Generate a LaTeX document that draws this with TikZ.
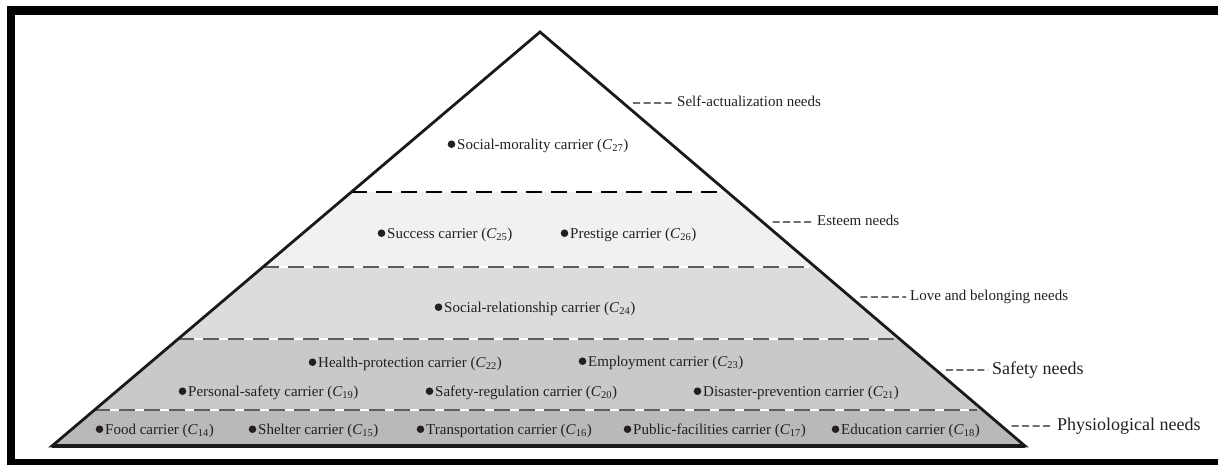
\documentclass[tikz,border=0pt]{standalone}
\usepackage{fontspec}
\setmainfont{Liberation Serif}
\usetikzlibrary{calc}

\definecolor{txt}{HTML}{231F20}
\definecolor{edgecol}{HTML}{1A1A1A}
\definecolor{esteemfill}{HTML}{F1F1F1}
\definecolor{lovefill}{HTML}{DCDCDD}
\definecolor{safetyfill}{HTML}{C9C9CA}
\definecolor{physiofill}{HTML}{B9B9BA}
\definecolor{tiergray}{HTML}{5E5E5E}

\newcommand{\cid}[1]{(\textit{C}\textsubscript{#1})}

\begin{document}
\begin{tikzpicture}[x=1pt,y=-1pt,
  carrier/.style={anchor=base west, inner sep=0pt, text=txt,
    font=\fontsize{15}{18}\selectfont},
  needlabel/.style={anchor=west, inner xsep=4pt, inner ysep=0pt, text=txt,
    text height=10.2pt, text depth=3pt, font=\fontsize{15}{18}\selectfont},
  biglabel/.style={needlabel, text height=12.2pt, text depth=3.6pt,
    font=\fontsize{18}{21}\selectfont},
  leader/.style={draw=txt, line width=1.1pt, dash pattern=on 7pt off 3.5pt},
  tierline/.style={line width=1.7pt, dash pattern=on 16pt off 9pt},
  underline/.style={draw=white, line width=1.7pt}
]
\useasboundingbox (0,0) rectangle (1218,464);
\clip (0,0) rectangle (1218,464);

% pyramid corners
\coordinate (apex) at (540,32);
\coordinate (bl) at (52,446);
\coordinate (br) at (1025,446);

% tier boundaries on both sides
\foreach \i/\t in {1/0.3865,2/0.5676,3/0.7415,4/0.9130}{
  \coordinate (l\i) at ($(apex)!\t!(bl)$);
  \coordinate (r\i) at ($(apex)!\t!(br)$);
}

% tier fills
\fill[esteemfill] (l1) -- (r1) -- (r2) -- (l2) -- cycle;
\fill[lovefill]   (l2) -- (r2) -- (r3) -- (l3) -- cycle;
\fill[safetyfill] (l3) -- (r3) -- (r4) -- (l4) -- cycle;
\fill[physiofill] (l4) -- (r4) -- (br) -- (bl) -- cycle;

% dashed tier separators
\draw[tierline, draw=black] (l1) -- ([xshift=-6pt]r1);
\foreach \i in {2,3,4}{
  \draw[underline] (l\i) -- ([xshift=-6pt]r\i);
  \draw[tierline, draw=tiergray] (l\i) -- ([xshift=-6pt]r\i);
}

% pyramid outline
\draw[edgecol, line width=2.8pt, line join=miter] (apex) -- (br) -- (bl) -- cycle;
\draw[edgecol, line width=3.6pt] (bl) -- (br);

% carriers
\node[carrier] (c27) at (457,149) {Social-morality carrier \cid{27}};
\node[carrier] (c25) at (387,238) {Success carrier \cid{25}};
\node[carrier] (c26) at (570,238) {Prestige carrier \cid{26}};
\node[carrier] (c24) at (444,312) {Social-relationship carrier \cid{24}};
\node[carrier] (c22) at (318,367) {Health-protection carrier \cid{22}};
\node[carrier] (c23) at (588,366) {Employment carrier \cid{23}};
\node[carrier] (c19) at (188,396) {Personal-safety carrier \cid{19}};
\node[carrier] (c20) at (435,396) {Safety-regulation carrier \cid{20}};
\node[carrier] (c21) at (703,396) {Disaster-prevention carrier \cid{21}};
\node[carrier] (c14) at (105,434) {Food carrier \cid{14}};
\node[carrier] (c15) at (258,434) {Shelter carrier \cid{15}};
\node[carrier] (c16) at (426,434) {Transportation carrier \cid{16}};
\node[carrier] (c17) at (633,434) {Public-facilities carrier \cid{17}};
\node[carrier] (c18) at (841,434) {Education carrier \cid{18}};

\foreach \n in {c27,c25,c26,c24,c22,c23,c19,c20,c21,c14,c15,c16,c17,c18}
  \fill[txt] ([shift={(-5.5,-4.8)}]\n.base west) circle[radius=3.8pt];

% need levels on the right
\foreach \i/\t in {5/0.1715,6/0.4589,7/0.6401,8/0.8164,9/0.9517}
  \coordinate (e\i) at ($(apex)!\t!(br)$);

\node[needlabel] (selfact) at (673,103) {Self-actualization needs};
\node[needlabel] (esteem)  at (813,222) {Esteem needs};
\node[needlabel] (love)    at (906,297) {Love and belonging needs};
\node[biglabel]  (safety)  at (988,370) {Safety needs};
\node[biglabel]  (physio)  at (1053,426) {Physiological needs};

\draw[leader] ([xshift=10pt]e5) -- (selfact.west);
\draw[leader] ([xshift=10pt]e6) -- (esteem.west);
\draw[leader] ([xshift=10pt]e7) -- (love.west);
\draw[leader] ([xshift=10pt]e8) -- (safety.west);
\draw[leader] ([xshift=10pt]e9) -- (physio.west);

% outer frame
\draw[black, line width=8.5pt] (11,10.5) rectangle (1232,463);
\end{tikzpicture}
\end{document}
